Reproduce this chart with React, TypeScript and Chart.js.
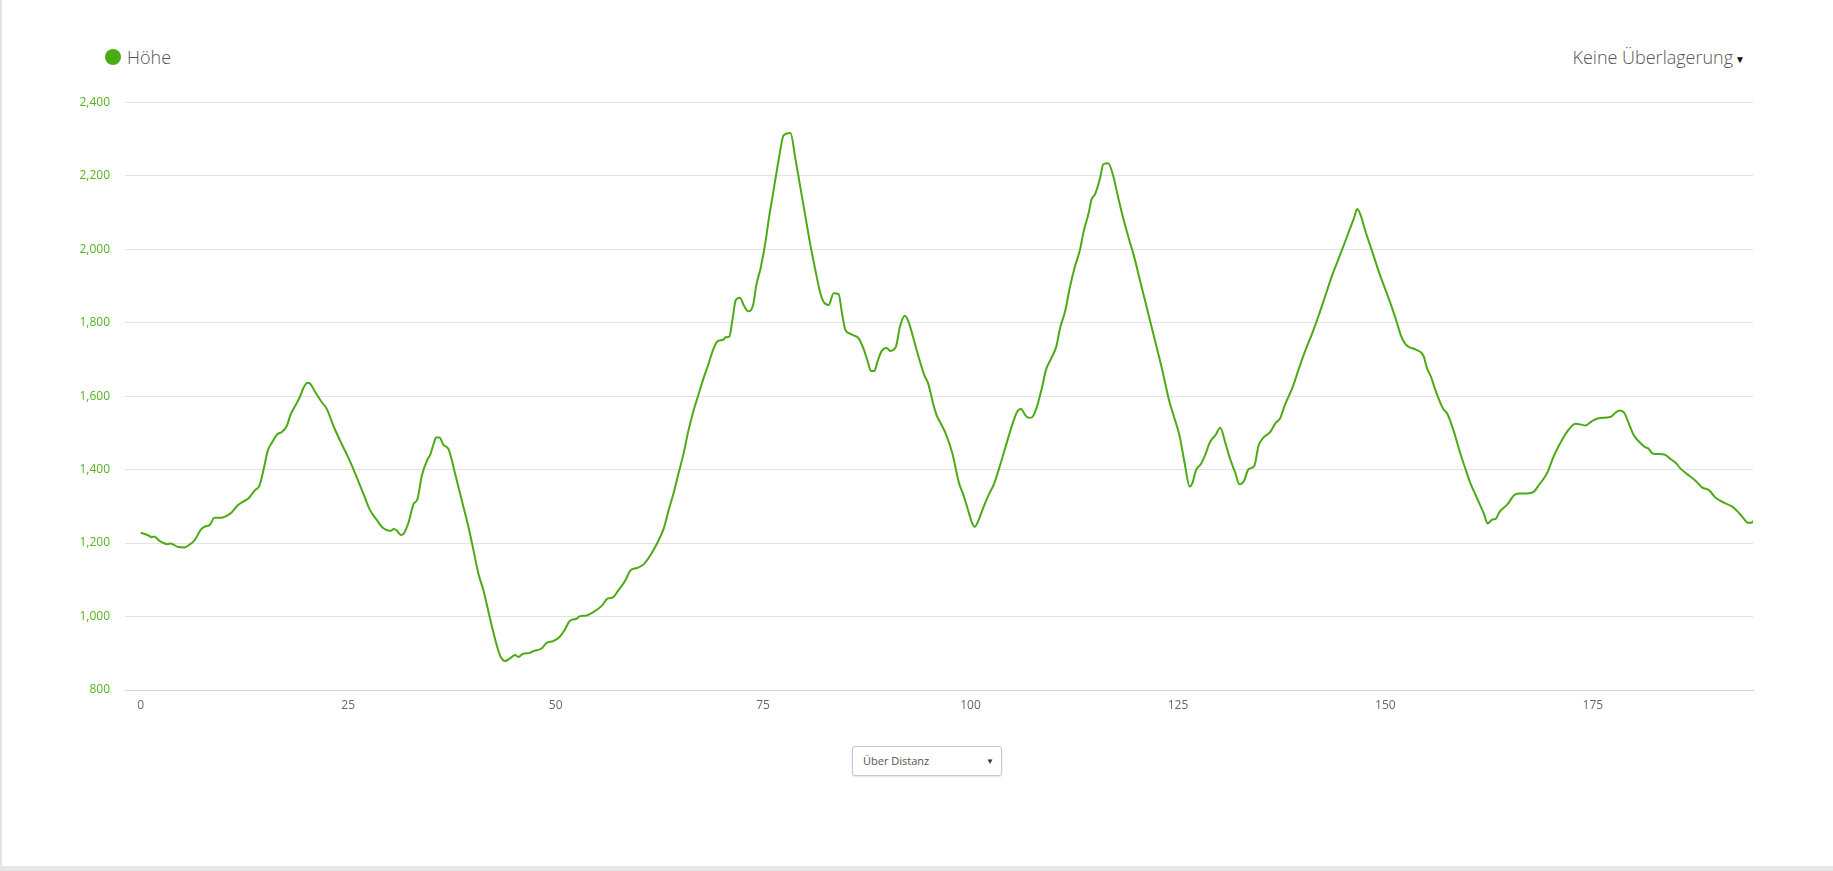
import React, { useEffect, useRef } from "react";
import { Chart, registerables } from "chart.js";

Chart.register(...registerables);

// Distance along the route (km)
const distanceKm = [
  0, 0.9, 1.3, 1.6, 2.3, 3.2, 3.6, 4.5, 5.25, 5.9, 6.5, 7.26, 7.74, 8.35, 8.87, 9.75,
  10.35, 10.95, 11.6, 12.35, 12.96, 13.76, 14.3, 14.85, 15.3, 15.85, 16.45, 17.0, 17.6,
  18.06, 18.6, 19.2, 19.6, 20.1, 20.4, 21.0, 21.8, 22.4, 23.2, 24.1, 25.0, 25.8, 26.8,
  27.6, 28.4, 29.2, 30.1, 30.5, 30.85, 31.35, 31.67, 32.27, 32.87, 33.35, 33.87, 34.56,
  34.88, 35.28, 35.6, 36.0, 36.48, 37.1, 37.9, 38.7, 39.5, 40.1, 40.7, 41.3, 42.1, 42.9,
  43.4, 43.9, 44.5, 45.1, 45.5, 46.1, 46.9, 47.3, 48.3, 48.9, 49.7, 50.5, 51.1, 51.7,
  52.5, 52.95, 53.75, 54.55, 55.55, 56.2, 56.95, 57.55, 58.4, 59.0, 59.8, 60.6, 61.4,
  62.2, 63.0, 63.6, 64.2, 64.8, 65.4, 66.0, 66.6, 67.2, 67.8, 68.4, 68.96, 69.5, 70.25,
  70.45, 70.93, 71.3, 71.7, 72.2, 72.7, 73.2, 73.8, 74.2, 74.7, 75.3, 75.7, 76.2, 76.7,
  77.07, 77.47, 78.3, 78.9, 79.5, 80.1, 80.7, 81.3, 81.9, 82.3, 82.9, 83.5, 84.1, 84.5,
  84.9, 85.5, 85.9, 86.5, 87.1, 87.6, 88.0, 88.4, 88.8, 89.3, 89.9, 90.3, 91.0, 91.5,
  92.1, 92.5, 93.1, 93.7, 94.45, 94.9, 95.5, 95.9, 96.36, 96.97, 97.8, 98.6, 99.2, 99.8,
  100.2, 100.5, 101.0, 101.6, 102.2, 102.8, 103.4, 104.0, 104.6, 105.1, 105.6, 106.1,
  106.6, 107.0, 107.4, 108.0, 108.6, 109.1, 109.75, 110.35, 110.8, 111.4, 112.0, 112.6,
  113.2, 113.6, 114.2, 114.6, 115.0, 115.6, 116.0, 116.6, 117.2, 117.8, 118.5, 119.1,
  119.7, 120.5, 121.1, 121.8, 122.5, 123.1, 123.9, 124.5, 125.2, 125.8, 126.4, 126.7,
  127.2, 127.7, 128.3, 128.8, 129.13, 129.5, 130.1, 130.7, 131.3, 131.9, 132.4, 132.95,
  133.5, 134.2, 134.7, 135.3, 136.1, 136.8, 137.3, 137.9, 138.8, 139.6, 140.4, 141.2,
  142.0, 142.8, 143.6, 144.4, 145.0, 145.6, 146.2, 146.6, 147.0, 147.6, 148.4, 149.2,
  150.0, 150.8, 151.4, 151.9, 152.3, 152.8, 153.6, 154.6, 155.0, 155.5, 156.0, 156.9,
  157.5, 158.3, 159.0, 159.6, 160.2, 161.0, 161.9, 162.3, 162.9, 163.3, 163.7, 164.7,
  165.5, 166.1, 167.1, 167.9, 168.5, 169.5, 170.3, 171.1, 171.8, 172.9, 173.5, 174.1,
  174.9, 175.7, 177.1, 177.7, 178.2, 178.8, 179.3, 179.9, 180.7, 181.3, 181.7, 182.2,
  183.6, 184.4, 185.0, 185.6, 186.4, 187.4, 188.2, 189.0, 189.8, 190.8, 191.8, 192.4,
  193.0, 193.7, 194.1, 194.3,
];

// Elevation (m)
const elevationM = [
  1228, 1221, 1216, 1218, 1205, 1197, 1199, 1189, 1188, 1196, 1208, 1237, 1245, 1250, 1269, 1269,
  1274, 1283, 1301, 1313, 1321, 1344, 1356, 1405, 1451, 1475, 1496, 1502, 1519,
  1550, 1573, 1599, 1622, 1636, 1634, 1612, 1584, 1566, 1520, 1475, 1433, 1392, 1336,
  1291, 1264, 1241, 1233, 1238, 1234, 1222, 1225, 1256, 1306, 1320, 1383, 1428,
  1440, 1469, 1487, 1487, 1467, 1455, 1387, 1315, 1243, 1180, 1116, 1071, 994, 922,
  889, 879, 886, 895, 890, 899, 901, 906, 913, 928, 933, 945, 964, 988,
  994, 1001, 1003, 1012, 1029, 1048, 1053, 1071, 1098, 1125, 1132, 1142, 1166,
  1198, 1238, 1288, 1335, 1389, 1442, 1506, 1559, 1603, 1647, 1686, 1725, 1749, 1754,
  1760, 1762, 1807, 1861, 1868, 1846, 1831, 1848, 1904, 1948, 2021, 2084, 2152, 2220,
  2269, 2310, 2316, 2245, 2167, 2089, 2011, 1943, 1880, 1856, 1848, 1880, 1878, 1827,
  1781, 1770, 1765, 1758, 1729, 1695, 1668, 1668, 1695, 1723, 1731, 1723, 1734, 1790,
  1819, 1804, 1759, 1710, 1656, 1634, 1579, 1549, 1528, 1500, 1445, 1364, 1327, 1282,
  1254, 1244, 1264, 1300, 1332, 1359, 1400, 1445, 1491, 1527, 1557, 1565,
  1548, 1541, 1542, 1571, 1622, 1672, 1704, 1736, 1786, 1831, 1899, 1954,
  1999, 2045, 2095, 2136, 2149, 2192, 2231, 2234, 2199, 2140, 2076, 2027,
  1981, 1908, 1854, 1790, 1727, 1672, 1591, 1545, 1491, 1418, 1354, 1361,
  1400, 1413, 1441, 1472, 1484, 1493, 1514, 1473, 1428, 1392, 1360, 1369,
  1401, 1410, 1464, 1487, 1502, 1528, 1539, 1577, 1623, 1677, 1727, 1772,
  1822, 1876, 1930, 1976, 2012, 2048, 2084, 2109, 2093, 2048, 1994, 1939,
  1890, 1840, 1799, 1763, 1745, 1734, 1727, 1709, 1677, 1652, 1618, 1568,
  1550, 1500, 1446, 1405, 1365, 1324, 1278, 1253, 1264, 1266, 1283, 1305,
  1330, 1335, 1335, 1340, 1358, 1391, 1437, 1473, 1500, 1525, 1523, 1520,
  1532, 1540, 1543, 1554, 1561, 1554, 1527, 1495, 1473, 1461, 1457, 1444,
  1441, 1428, 1418, 1402, 1387, 1369, 1351, 1344, 1323, 1310, 1299, 1287,
  1272, 1255, 1255, 1260,
];

const xTickValues = [0, 25, 50, 75, 100, 125, 150, 175];
const yTickValues = [800, 1000, 1200, 1400, 1600, 1800, 2000, 2200, 2400];
const seriesName = "Höhe";
const overlayLabel = "Keine Überlagerung";
const modeLabel = "Über Distanz";

const LINE_GREEN = "#4caa14";
const LABEL_GREEN = "#55b31b";
const FONT = "'Open Sans', 'Noto Sans', sans-serif";

export default function App() {
  const canvasRef = useRef<HTMLCanvasElement | null>(null);

  useEffect(() => {
    document.body.style.margin = "0";
    const canvas = canvasRef.current;
    if (!canvas) return;
    const chart = new Chart(canvas, {
      type: "line",
      data: {
        datasets: [
          {
            label: seriesName,
            data: distanceKm.map((x, i) => ({ x, y: elevationM[i] })),
            borderColor: LINE_GREEN,
            backgroundColor: LINE_GREEN,
            borderWidth: 2,
            pointRadius: 0,
            fill: false,
            cubicInterpolationMode: "monotone",
          },
        ],
      },
      options: {
        animation: false,
        responsive: false,
        maintainAspectRatio: false,
        layout: { padding: { left: 0, right: 80, top: 20, bottom: 0 } },
        plugins: {
          legend: { display: false },
          tooltip: { enabled: false },
        },
        scales: {
          x: {
            type: "linear",
            min: -1.9,
            max: distanceKm[distanceKm.length - 1],
            afterBuildTicks: (s: any) => {
              s.ticks = xTickValues.map((v) => ({ value: v }));
            },
            afterFit: (s: any) => {
              s.height = 30;
            },
            grid: { display: false, drawTicks: false },
            border: { display: true, color: "#ccd6eb", width: 1 },
            ticks: {
              color: "#666666",
              font: { family: FONT, size: 12 },
              padding: 8,
              maxRotation: 0,
              autoSkip: false,
            },
          },
          y: {
            min: 800,
            max: 2400,
            afterBuildTicks: (s: any) => {
              s.ticks = yTickValues.map((v) => ({ value: v }));
            },
            afterFit: (s: any) => {
              s.width = 125;
            },
            grid: {
              drawTicks: false,
              color: (ctx: any) =>
                ctx.tick && ctx.tick.value === 800 ? "#ccd6eb" : "#e3e3e3",
              lineWidth: 1,
            },
            border: { display: false },
            ticks: {
              color: LABEL_GREEN,
              font: { family: FONT, size: 12 },
              padding: 15,
              callback: (v: any) => Number(v).toLocaleString("en-US"),
            },
          },
        },
      },
    });
    return () => chart.destroy();
  }, []);

  return (
    <div
      style={{
        position: "relative",
        width: 1833,
        height: 871,
        overflow: "hidden",
        background: "#ffffff",
        fontFamily: FONT,
      }}
    >
      <div style={{ position: "absolute", left: 0, top: 0, width: 2, height: 866, background: "#e0e3e6" }} />
      <div style={{ position: "absolute", left: 0, top: 866, width: 1833, height: 5, background: "#e6e6e6" }} />

      {/* Legend */}
      <div
        style={{
          position: "absolute",
          left: 105,
          top: 49,
          width: 16,
          height: 16,
          borderRadius: "50%",
          background: LINE_GREEN,
        }}
      />
      <div
        style={{
          position: "absolute",
          left: 127,
          top: 45,
          fontSize: 18,
          lineHeight: "24px",
          fontWeight: 300,
          color: "#555555",
          whiteSpace: "nowrap",
        }}
      >
        {seriesName}
      </div>

      {/* Overlay selector */}
      <div
        style={{
          position: "absolute",
          right: 88,
          top: 45,
          fontSize: 18,
          lineHeight: "24px",
          fontWeight: 300,
          color: "#555555",
          whiteSpace: "nowrap",
        }}
      >
        {overlayLabel}
        <span style={{ fontSize: 10, color: "#111", marginLeft: 2, verticalAlign: "middle" }}>▼</span>
      </div>

      <canvas
        ref={canvasRef}
        width={1833}
        height={640}
        style={{ position: "absolute", left: 0, top: 80, width: 1833, height: 640 }}
      />

      {/* Mode selector */}
      <div
        style={{
          position: "absolute",
          left: 852,
          top: 746,
          width: 150,
          height: 30,
          boxSizing: "border-box",
          border: "1px solid #c8c8c8",
          borderRadius: 3,
          boxShadow: "0 1px 2px rgba(0,0,0,0.12)",
          background: "#fff",
          fontSize: 11,
          lineHeight: "28px",
          color: "#555555",
          paddingLeft: 10,
        }}
      >
        {modeLabel}
        <span style={{ position: "absolute", right: 7, top: 0, fontSize: 8, color: "#333" }}>▼</span>
      </div>
    </div>
  );
}
